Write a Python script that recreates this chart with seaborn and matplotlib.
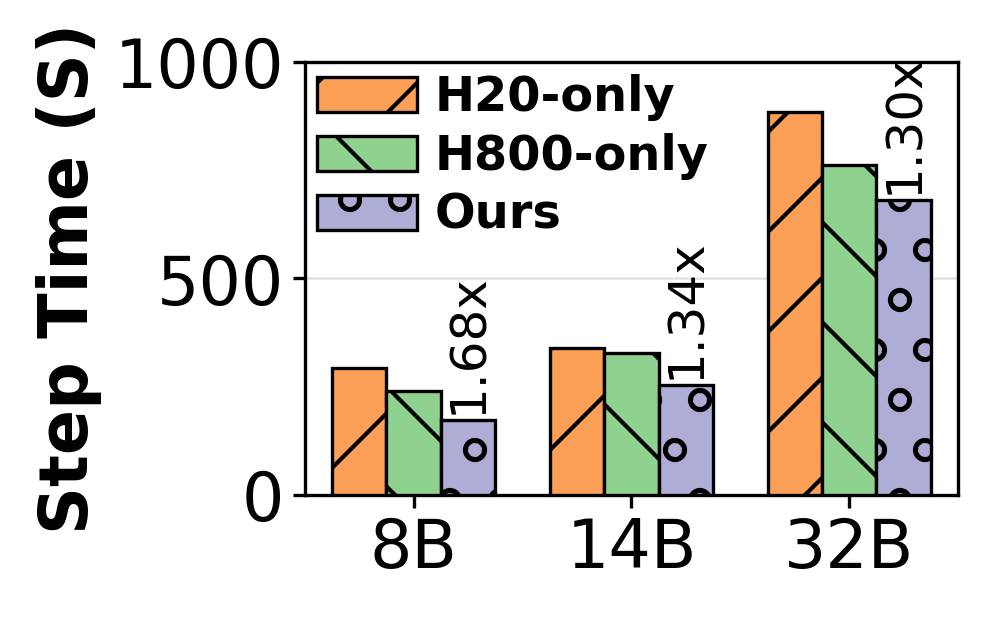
import matplotlib
matplotlib.use("Agg")
import matplotlib.pyplot as plt
import seaborn as sns
import pandas as pd

models = ["8B", "14B", "32B"]
methods = ["H20-only", "H800-only", "Ours"]
h20_only = [293, 339, 884]
h800_only = [240, 328, 762]
ours = [173, 254, 681]
speedup_labels = ["1.68x", "1.34x", "1.30x"]

colors = ["#FCA057", "#8FD18E", "#ADADD6"]
hatches = ["/", "\\", "o"]

df = pd.DataFrame({
    "Model": models * 3,
    "Method": [m for m in methods for _ in models],
    "Time": h20_only + h800_only + ours,
})

sns.set_style("ticks")
plt.rcParams["font.family"] = ["DejaVu Sans"]
plt.rcParams["hatch.linewidth"] = 1.0
for key in ["text.color", "axes.labelcolor", "xtick.color", "ytick.color"]:
    plt.rcParams[key] = "black"

fig = plt.figure(figsize=(3.32, 2.077), dpi=300)
ax = fig.add_axes([0.306, 0.2055, 0.656, 0.695])

sns.barplot(data=df, x="Model", y="Time", hue="Method", palette=colors,
            saturation=1, edgecolor="black", linewidth=0.8, width=0.75,
            gap=0, legend=False, ax=ax, zorder=3)

for cont, hatch in zip(ax.containers, hatches):
    for bar in cont:
        bar.set_hatch(hatch)

# speedup labels above "Ours" bars
for bar, lab in zip(ax.containers[2], speedup_labels):
    ax.text(bar.get_x() + bar.get_width() / 2, bar.get_height() + 15, lab,
            rotation=90, ha="center", va="bottom", fontsize=12)

ax.set_ylim(0, 1000)
ax.set_yticks([0, 500, 1000])
ax.yaxis.grid(True, color="#e3e3e3", linewidth=0.6)
ax.set_axisbelow(True)
for sp in ax.spines.values():
    sp.set_visible(True)
    sp.set_color("black")
    sp.set_linewidth(0.8)

ax.set_xlabel("")
ax.set_ylabel("Step Time (S)", fontsize=16, fontweight="bold", labelpad=3)
ax.tick_params(axis="both", labelsize=16, length=3, width=0.8, pad=2)

ax.legend(ax.containers, methods, loc="upper left", frameon=False,
          prop={"weight": "bold", "size": 11.5}, handlelength=2.1,
          handleheight=0.75, labelspacing=0.25, handletextpad=0.35,
          borderaxespad=0.15, borderpad=0.1)

fig.savefig("out.png", dpi=300)
